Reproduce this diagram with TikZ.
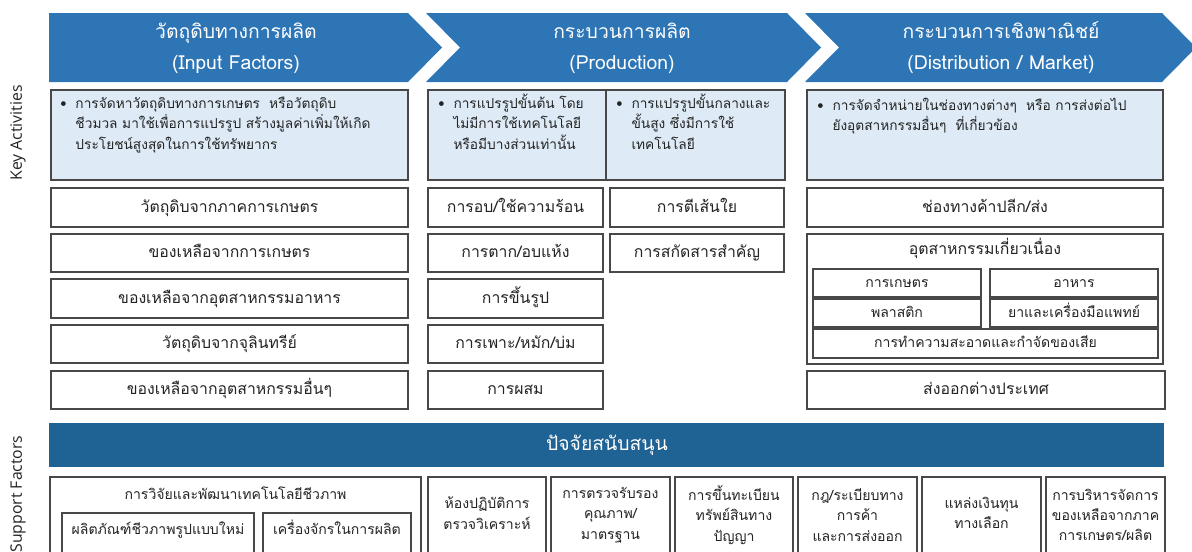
\documentclass[tikz,border=0pt]{standalone}
\usepackage{fontspec}
\setmainfont[Script=Thai]{Loma}
\newfontfamily\sidefont{Open Sans}
\definecolor{chevblue}{RGB}{46,117,182}
\definecolor{barblue}{RGB}{31,98,148}
\definecolor{descfill}{RGB}{222,235,247}
\definecolor{boxline}{RGB}{72,72,72}
\definecolor{inktext}{RGB}{35,35,35}

\tikzset{
  chev/.style={fill=chevblue},
  headtext/.style={text=white, align=center, inner sep=0pt, font=\fontsize{11}{17.6}\selectfont},
  descbox/.style={draw=boxline, fill=descfill, line width=0.7pt},
  desctext/.style={text=inktext, inner sep=0pt, anchor=base west, font=\fontsize{7.8}{11.9}\selectfont},
  itembox/.style={draw=boxline, fill=white, line width=0.7pt},
  itemtext/.style={text=inktext, inner sep=0pt, anchor=base, font=\fontsize{9}{11}\selectfont},
  subtext/.style={text=inktext, inner sep=0pt, anchor=base, font=\fontsize{8}{10}\selectfont},
  supptext/.style={text=inktext, inner sep=0pt, align=center, font=\fontsize{8}{11.6}\selectfont},
  sidelabel/.style={rotate=90, text=inktext, inner sep=0pt, font=\sidefont\fontsize{9}{11}\selectfont}
}

\begin{document}
\begin{tikzpicture}[x=0.02cm, y=-0.02cm]

    \clip (0,0) rectangle (1192,551);

    % chevrons
    \fill[chev] (49,13) -- (408,13) -- (442,47.5) -- (408,82) -- (49,82) -- cycle;
    \fill[chev] (426,13) -- (787,13) -- (821,47.5) -- (787,82) -- (426,82) -- (460,47.5) -- cycle;
    \fill[chev] (805,13) -- (1162,13) -- (1196,47.5) -- (1162,82) -- (805,82) -- (839,47.5) -- cycle;

    \node[headtext] (headin) at (236,48) {วัตถุดิบทางการผลิต\\(Input Factors)};
    \node[headtext] (headprod) at (622,48) {กระบวนการผลิต\\(Production)};
    \node[headtext] (headmkt) at (1001,48) {กระบวนการเชิงพาณิชย์\\(Distribution / Market)};

    % side labels
    \node[sidelabel] (keyact) at (18,133) {Key Activities};
    \node[sidelabel] (suppfac) at (18,494) {Support Factors};

    % key activity descriptions
    \draw[descbox] (51,90) rectangle (408,180);
    \draw[descbox] (428,90) rectangle (785,180);
    \draw[boxline, line width=0.7pt] (606,90) -- (606,180);
    \draw[descbox] (807,90) rectangle (1163,180);

    \node[desctext] (descin) at (60,108) {\begin{tabular}[t]{@{}l@{\hspace{5pt}}l@{}}
      • & การจัดหาวัตถุดิบทางการเกษตร\ \ หรือวัตถุดิบ\\
        & ชีวมวล มาใช้เพื่อการแปรรูป สร้างมูลค่าเพิ่มให้เกิด\\
        & ประโยชน์สูงสุดในการใช้ทรัพยากร
    \end{tabular}};
    \node[desctext] (descprima) at (438,108) {\begin{tabular}[t]{@{}l@{\hspace{5pt}}l@{}}
      • & การแปรรูปขั้นต้น โดย\\
        & ไม่มีการใช้เทคโนโลยี\\
        & หรือมีบางส่วนเท่านั้น
    \end{tabular}};
    \node[desctext] (descprimb) at (616,108) {\begin{tabular}[t]{@{}l@{\hspace{5pt}}l@{}}
      • & การแปรรูปขั้นกลางและ\\
        & ขั้นสูง ซึ่งมีการใช้\\
        & เทคโนโลยี
    \end{tabular}};
    \node[desctext] (descmkt) at (817,110) {\begin{tabular}[t]{@{}l@{\hspace{5pt}}l@{}}
      • & การจัดจำหน่ายในช่องทางต่างๆ\ \ หรือ การส่งต่อไป\\
        & ยังอุตสาหกรรมอื่นๆ\ \ ที่เกี่ยวข้อง
    \end{tabular}};

    % input factors
    \draw[itembox] (51,188) rectangle (408,227);
    \draw[itembox] (51,234) rectangle (408,272);
    \draw[itembox] (51,279) rectangle (408,318);
    \draw[itembox] (51,325) rectangle (408,363);
    \draw[itembox] (51,371) rectangle (408,409);
    \node[itemtext] (rawone) at (229.5,212) {วัตถุดิบจากภาคการเกษตร};
    \node[itemtext] (rawtwo) at (229.5,257.5) {ของเหลือจากการเกษตร};
    \node[itemtext] (rawthree) at (229.5,303) {ของเหลือจากอุตสาหกรรมอาหาร};
    \node[itemtext] (rawfour) at (229.5,348.5) {วัตถุดิบจากจุลินทรีย์};
    \node[itemtext] (rawfive) at (229.5,394.5) {ของเหลือจากอุตสาหกรรมอื่นๆ};

    % production
    \draw[itembox] (428,188) rectangle (603,227);
    \draw[itembox] (428,234) rectangle (603,272);
    \draw[itembox] (428,279) rectangle (603,318);
    \draw[itembox] (428,325) rectangle (603,363);
    \draw[itembox] (428,371) rectangle (603,409);
    \draw[itembox] (610,188) rectangle (784,227);
    \draw[itembox] (610,234) rectangle (784,272);
    \node[itemtext] (bake) at (515.5,212) {การอบ/ใช้ความร้อน};
    \node[itemtext] (dry) at (515.5,257.5) {การตาก/อบแห้ง};
    \node[itemtext] (mould) at (515.5,303) {การขึ้นรูป};
    \node[itemtext] (ferment) at (515.5,348.5) {การเพาะ/หมัก/บ่ม};
    \node[itemtext] (mix) at (515.5,394.5) {การผสม};
    \node[itemtext] (fibre) at (697,212) {การตีเส้นใย};
    \node[itemtext] (extract) at (697,257.5) {การสกัดสารสำคัญ};

    % distribution / market
    \draw[itembox] (807,188) rectangle (1163,227);
    \draw[itembox] (807,234) rectangle (1163,364);
    \draw[itembox] (813,269) rectangle (981,297);
    \draw[itembox] (990,269) rectangle (1158,297);
    \draw[itembox] (813,299) rectangle (981,327);
    \draw[itembox] (990,299) rectangle (1158,327);
    \draw[itembox] (813,329) rectangle (1158,358);
    \draw[itembox] (807,371) rectangle (1165,409);
    \node[itemtext] (retail) at (985,212) {ช่องทางค้าปลีก/ส่ง};
    \node[itemtext] (related) at (985,254.5) {อุตสาหกรรมเกี่ยวเนื่อง};
    \node[subtext] (agri) at (897,287) {การเกษตร};
    \node[subtext] (food) at (1074,287) {อาหาร};
    \node[subtext] (plastic) at (897,317) {พลาสติก};
    \node[subtext] (medic) at (1074,317) {ยาและเครื่องมือแพทย์};
    \node[subtext] (waste) at (985.5,347.5) {การทำความสะอาดและกำจัดของเสีย};
    \node[itemtext] (export) at (986,394.5) {ส่งออกต่างประเทศ};

    % support factors
    \fill[barblue] (49,423) rectangle (1164,467);
    \node[headtext] (supphead) at (607,445) {ปัจจัยสนับสนุน};

    \draw[itembox] (50,477) rectangle (421,560);
    \draw[itembox] (62,513) rectangle (254,560);
    \draw[itembox] (263,513) rectangle (411,560);
    \node[subtext] (research) at (235.5,499) {การวิจัยและพัฒนาเทคโนโลยีชีวภาพ};
    \node[subtext] (newprod) at (158,534) {ผลิตภัณฑ์ชีวภาพรูปแบบใหม่};
    \node[subtext] (machine) at (337,534) {เครื่องจักรในการผลิต};

    \draw[itembox] (428,477) rectangle (546,560);
    \draw[itembox] (551,477) rectangle (670,560);
    \draw[itembox] (675,477) rectangle (793,560);
    \draw[itembox] (798,477) rectangle (917,560);
    \draw[itembox] (922,477) rectangle (1041,560);
    \draw[itembox] (1046,477) rectangle (1165,560);
    \node[supptext] (lab) at (487,513) {ห้องปฏิบัติการ\\ตรวจวิเคราะห์};
    \node[supptext] (certify) at (610.5,515) {การตรวจรับรอง\\คุณภาพ/\\มาตรฐาน};
    \node[supptext] (patent) at (734,515) {การขึ้นทะเบียน\\ทรัพย์สินทาง\\ปัญญา};
    \node[supptext] (trade) at (857.5,515) {กฎ/ระเบียบทาง\\การค้า\\และการส่งออก};
    \node[supptext] (fund) at (981.5,513) {แหล่งเงินทุน\\ทางเลือก};
    \node[supptext] (residue) at (1105.5,515) {การบริหารจัดการ\\ของเหลือจากภาค\\การเกษตร/ผลิต};

  \end{tikzpicture}
\end{document}
